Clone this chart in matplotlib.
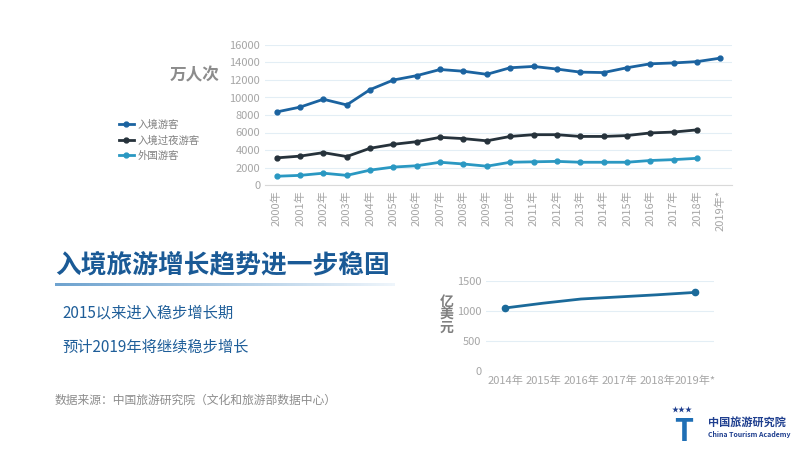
import numpy as np
import matplotlib.pyplot as plt
from matplotlib.colors import LinearSegmentedColormap

plt.rcParams['font.family'] = ['Noto Sans CJK SC', 'DejaVu Sans']

years = [f'{y}年' for y in range(2000, 2019)] + ['2019年*']
inbound = [8350, 8900, 9800, 9150, 10900, 12000, 12500, 13200, 13000, 12650,
           13400, 13550, 13250, 12900, 12850, 13400, 13850, 13950, 14100, 14500]
overnight = [3100, 3300, 3700, 3250, 4200, 4650, 4950, 5450, 5300, 5050,
             5550, 5750, 5750, 5550, 5550, 5650, 5950, 6050, 6300]
foreign = [1000, 1100, 1350, 1100, 1700, 2050, 2200, 2600, 2400, 2150,
           2600, 2650, 2700, 2600, 2600, 2600, 2800, 2900, 3050]

rev_years = ['2014年', '2015年', '2016年', '2017年', '2018年', '2019年*']
revenue = [1050, 1130, 1200, 1235, 1270, 1310]

GRAY = '#a6a6a6'
GRID = '#e3eef5'
W, H = 800, 450
fig = plt.figure(figsize=(8, 4.5), dpi=100)


def box(l, r, t, b):
    return [l / W, 1 - b / H, (r - l) / W, (b - t) / H]


# ---------- main chart: arrivals ----------
ax = fig.add_axes(box(265, 732, 45, 185))
x = np.arange(len(years))
ax.plot(x, inbound, color='#1b63a0', lw=2, marker='o', ms=3.5, label='入境游客')
ax.plot(x[:19], overnight, color='#26323b', lw=2, marker='o', ms=3.5, label='入境过夜游客')
ax.plot(x[:19], foreign, color='#2a98c2', lw=2, marker='o', ms=3.5, label='外国游客')
ax.set_xlim(-0.5, len(years) - 0.5)
ax.set_ylim(0, 16000)
ax.set_yticks(range(0, 16001, 2000))
ax.set_xticks(x)
ax.set_xticklabels(years, rotation=90)
ax.tick_params(colors=GRAY, labelsize=8, length=0)
ax.grid(axis='y', color=GRID, lw=0.8)
for s in ax.spines.values():
    s.set_visible(False)
ax.spines['bottom'].set_visible(True)
ax.spines['bottom'].set_color('#d9d9d9')
ax.legend(loc='center right', bbox_to_anchor=(-0.12, 0.32), frameon=False,
          fontsize=7.5, labelcolor='#808080', handlelength=1.5, handletextpad=0.3)
fig.text(170 / W, 1 - 75 / H, '万人次', fontsize=12, color='#8c8c8c',
         fontweight='bold', va='center')

# ---------- small chart: revenue ----------
ax2 = fig.add_axes(box(486, 714, 281, 371))
x2 = np.arange(len(rev_years))
ax2.plot(x2, revenue, color='#1b6a9a', lw=2)
ax2.plot(x2[[0, -1]], [revenue[0], revenue[-1]], 'o', color='#1b6a9a', ms=4.5)
ax2.set_xlim(-0.5, len(rev_years) - 0.5)
ax2.set_ylim(0, 1500)
ax2.set_yticks([0, 500, 1000, 1500])
ax2.set_xticks(x2)
ax2.set_xticklabels(rev_years)
ax2.tick_params(colors=GRAY, labelsize=8, length=0)
ax2.grid(axis='y', color=GRID, lw=0.8)
for s in ax2.spines.values():
    s.set_visible(False)
fig.text(440 / W, 1 - 315 / H, '亿\n美\n元', fontsize=10, color='#808080',
         fontweight='bold', va='center', linespacing=0.9)

# ---------- text ----------
fig.text(55 / W, 1 - 265 / H, '入境旅游增长趋势进一步稳固', fontsize=18.5,
         color='#1a5a96', fontweight='bold', va='center')
bax = fig.add_axes(box(55, 395, 283, 286))
bax.imshow(np.linspace(0, 1, 100).reshape(1, -1), aspect='auto',
           cmap=LinearSegmentedColormap.from_list('b', ['#6fa3cf', '#eef5fb']))
bax.axis('off')
fig.text(62 / W, 1 - 313 / H, '2015以来进入稳步增长期', fontsize=11, color='#1f5e99', va='center')
fig.text(62 / W, 1 - 347 / H, '预计2019年将继续稳步增长', fontsize=11, color='#1f5e99', va='center')
fig.text(55 / W, 1 - 400 / H, '数据来源：中国旅游研究院（文化和旅游部数据中心）',
         fontsize=8.5, color='#8c8c8c', va='center')

# ---------- logo ----------
fig.text(708 / W, 1 - 422 / H, '中国旅游研究院', fontsize=8, color='#1f3f8f',
         fontweight='bold', va='center')
fig.text(708 / W, 1 - 434 / H, 'China Tourism Academy', fontsize=5, color='#1f3f8f',
         fontweight='bold', va='center')
fig.text(684 / W, 1 - 432 / H, 'T', fontsize=22, color='#1f6fb5',
         fontweight='bold', style='italic', ha='center', va='center')
fig.text(682 / W, 1 - 411 / H, '★★★', fontsize=5, color='#1f3f8f', ha='center', va='center')

fig.savefig('out.png', dpi=100)
